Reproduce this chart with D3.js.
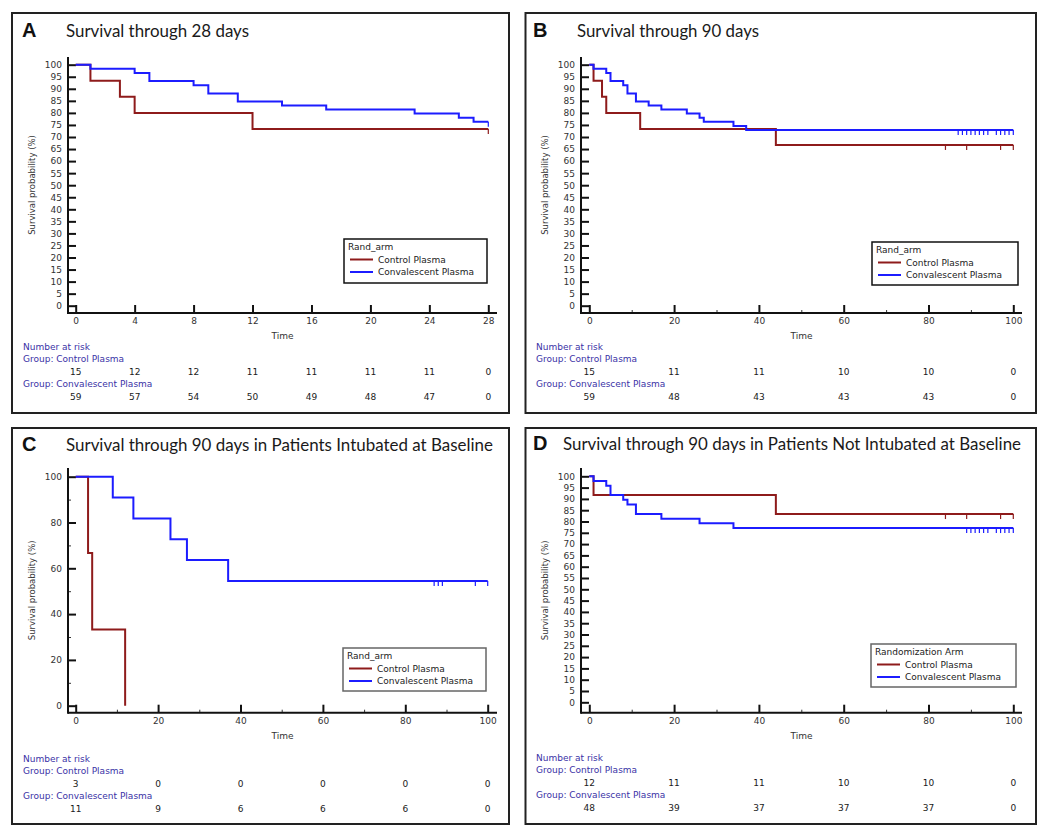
<!DOCTYPE html>
<html>
<head>
<meta charset="utf-8">
<script src="https://cdn.jsdelivr.net/npm/d3@7"></script>
<style>
  body { margin: 0; background: #fff; }
  svg text { font-family: "DejaVu Sans", Verdana, sans-serif; }
</style>
</head>
<body>
<div id="chart"></div>
<script>
// ---- data ----
const groupNames = ['Control Plasma', 'Convalescent Plasma']
const yTicks5 = d3.range(0, 101, 5)
const yTicks20 = [0, 20, 40, 60, 80, 100]
const yMinor10 = [10, 30, 50, 70, 90]
const xTicks28 = [0, 4, 8, 12, 16, 20, 24, 28]
const xTicks100 = [0, 20, 40, 60, 80, 100]
const xMinor100 = [10, 30, 50, 70, 90]

// A: survival through 28 days
const aControlTimes = [0, 1, 3, 4, 12, 28]
const aControlSurv = [100, 93.3, 86.7, 80.0, 73.3, 73.3]
const aControlCensor = [28]
const aConvTimes = [0, 1, 4, 5, 8, 9, 11, 14, 17, 23, 26, 27, 28]
const aConvSurv = [100, 98.3, 96.6, 93.2, 91.5, 88.1, 84.7, 83.1, 81.4, 79.7, 78.0, 76.3, 76.3]
const aConvCensor = [28]
const aRiskControl = [15, 12, 12, 11, 11, 11, 11, 0]
const aRiskConv = [59, 57, 54, 50, 49, 48, 47, 0]

// B: survival through 90 days
const bControlTimes = [0, 1, 3, 4, 12, 44, 100]
const bControlSurv = [100, 93.3, 86.7, 80.0, 73.3, 66.7, 66.7]
const bControlCensor = [84, 89, 97, 100]
const bConvTimes = [0, 1, 4, 5, 8, 9, 11, 14, 17, 23, 26, 27, 34, 37, 100]
const bConvSurv = [100, 98.3, 96.6, 93.2, 91.5, 88.1, 84.7, 83.1, 81.4, 79.7, 78.0, 76.3, 74.6, 72.9, 72.9]
const bConvCensor = [87, 88, 89, 90, 91, 92, 93, 94, 96, 97, 98, 99, 100]
const bRiskControl = [15, 11, 11, 10, 10, 0]
const bRiskConv = [59, 48, 43, 43, 43, 0]

// C: intubated at baseline
const cControlTimes = [0, 3, 4, 12]
const cControlSurv = [100, 66.7, 33.3, 0]
const cControlCensor = []
const cConvTimes = [0, 9, 14, 23, 27, 37, 100]
const cConvSurv = [100, 90.9, 81.8, 72.7, 63.6, 54.5, 54.5]
const cConvCensor = [87, 88, 89, 97, 100]
const cRiskControl = [3, 0, 0, 0, 0, 0]
const cRiskConv = [11, 9, 6, 6, 6, 0]

// D: not intubated at baseline
const dControlTimes = [0, 1, 44, 100]
const dControlSurv = [100, 91.7, 83.3, 83.3]
const dControlCensor = [84, 89, 97, 100]
const dConvTimes = [0, 1, 4, 5, 8, 9, 11, 17, 26, 34, 100]
const dConvSurv = [100, 97.9, 95.8, 91.7, 89.6, 87.5, 83.3, 81.25, 79.2, 77.1, 77.1]
const dConvCensor = [89, 90, 91, 92, 93, 94, 96, 97, 98, 99, 100]
const dRiskControl = [12, 11, 11, 10, 10, 0]
const dRiskConv = [48, 39, 37, 37, 37, 0]

const RED = '#8e1b1b'
const BLUE = '#1c1cff'

function zip(times, surv) {
  return times.map((t, i) => ({ t: t, s: surv[i] }))
}

const panels = [
  {
    letter: 'A', title: 'Survival through 28 days', legendTitle: 'Rand_arm',
    box: [12, 13, 497, 400], letterX: 22, titleX: 66, titleW: 183, titleY: 37,
    xMax: 28, xRange: [75.7, 488.3], yRange: [305.7, 64.7],
    axisX: 68, axisY: 313, yTop: 57, xEnd: 497,
    xTicks: xTicks28, xMinor: [], yTicks: yTicks5, yMinor: [],
    legend: [344, 239, 143, 44], legendStroke: '#111',
    riskY: 350, riskX: 23,
    control: zip(aControlTimes, aControlSurv), controlCensor: aControlCensor,
    conv: zip(aConvTimes, aConvSurv), convCensor: aConvCensor,
    riskControl: aRiskControl, riskConv: aRiskConv
  },
  {
    letter: 'B', title: 'Survival through 90 days', legendTitle: 'Rand_arm',
    box: [525.5, 13, 510.5, 400], letterX: 533, titleX: 577, titleW: 182, titleY: 37,
    xMax: 100, xRange: [589.3, 1013.3], yRange: [305.7, 64.7],
    axisX: 581, axisY: 313, yTop: 57, xEnd: 1022,
    xTicks: xTicks100, xMinor: xMinor100, yTicks: yTicks5, yMinor: [],
    legend: [872, 242, 146, 43], legendStroke: '#111',
    riskY: 350, riskX: 536,
    control: zip(bControlTimes, bControlSurv), controlCensor: bControlCensor,
    conv: zip(bConvTimes, bConvSurv), convCensor: bConvCensor,
    riskControl: bRiskControl, riskConv: bRiskConv
  },
  {
    letter: 'C', title: 'Survival through 90 days in Patients Intubated at Baseline', legendTitle: 'Rand_arm',
    box: [12, 428, 497, 396], letterX: 22, titleX: 66, titleW: 427, titleY: 451,
    xMax: 100, xRange: [75.7, 487.7], yRange: [705.7, 476.7],
    axisX: 68, axisY: 712.7, yTop: 468, xEnd: 497,
    xTicks: xTicks100, xMinor: xMinor100, yTicks: yTicks20, yMinor: yMinor10,
    legend: [343, 648, 143, 43], legendStroke: '#666',
    riskY: 762, riskX: 23,
    control: zip(cControlTimes, cControlSurv), controlCensor: cControlCensor,
    conv: zip(cConvTimes, cConvSurv), convCensor: cConvCensor,
    riskControl: cRiskControl, riskConv: cRiskConv
  },
  {
    letter: 'D', title: 'Survival through 90 days in Patients Not Intubated at Baseline', legendTitle: 'Randomization Arm',
    box: [525.5, 428, 510.5, 396], letterX: 533, titleX: 563, titleW: 458, titleY: 450,
    xMax: 100, xRange: [589.3, 1013.3], yRange: [702.3, 476.3],
    axisX: 581, axisY: 712.7, yTop: 468, xEnd: 1022,
    xTicks: xTicks100, xMinor: xMinor100, yTicks: yTicks5, yMinor: [],
    legend: [871, 644, 145, 43], legendStroke: '#666',
    riskY: 761, riskX: 536,
    control: zip(dControlTimes, dControlSurv), controlCensor: dControlCensor,
    conv: zip(dConvTimes, dConvSurv), convCensor: dConvCensor,
    riskControl: dRiskControl, riskConv: dRiskConv
  }
]

const svg = d3.select('#chart').append('svg')
  .attr('width', 1050)
  .attr('height', 833)

function drawPanel(p) {
  const g = svg.append('g')

  g.append('rect')
    .attr('x', p.box[0]).attr('y', p.box[1])
    .attr('width', p.box[2]).attr('height', p.box[3])
    .attr('fill', 'none').attr('stroke', '#222').attr('stroke-width', 2)

  g.append('text')
    .attr('x', p.letterX).attr('y', p.titleY)
    .style('font-family', '"Liberation Sans", Arial, sans-serif')
    .style('font-weight', 'bold').style('font-size', '20px')
    .attr('fill', '#111')
    .text(p.letter)

  g.append('text')
    .attr('x', p.titleX).attr('y', p.titleY)
    .style('font-family', 'Lato, "Open Sans", sans-serif')
    .style('font-size', '18px')
    .attr('fill', '#1a1a1a')
    .attr('textLength', p.titleW).attr('lengthAdjust', 'spacingAndGlyphs')
    .text(p.title)

  const x = d3.scaleLinear().domain([0, p.xMax]).range(p.xRange)
  const y = d3.scaleLinear().domain([0, 100]).range(p.yRange)

  // x axis (ticks point up into the plot)
  const xa = g.append('g')
    .attr('transform', 'translate(0,' + p.axisY + ')')
    .call(d3.axisBottom(x).tickValues(p.xTicks).tickSizeInner(-8).tickSizeOuter(0).tickPadding(5))
  if (p.xMinor.length) {
    g.append('g')
      .attr('transform', 'translate(0,' + p.axisY + ')')
      .call(d3.axisBottom(x).tickValues(p.xMinor).tickSizeInner(-3).tickSizeOuter(0).tickFormat(''))
      .call(s => s.select('.domain').remove())
      .selectAll('line').attr('stroke', '#333').attr('stroke-width', 1)
  }
  xa.select('.domain').remove()
  xa.selectAll('line').attr('stroke', '#111').attr('stroke-width', 2)
  xa.selectAll('text').attr('fill', '#333').style('font-size', '9px')

  // y axis (ticks point right into the plot)
  const ya = g.append('g')
    .attr('transform', 'translate(' + p.axisX + ',0)')
    .call(d3.axisLeft(y).tickValues(p.yTicks).tickSizeInner(-8).tickSizeOuter(0).tickPadding(6))
  if (p.yMinor.length) {
    g.append('g')
      .attr('transform', 'translate(' + p.axisX + ',0)')
      .call(d3.axisLeft(y).tickValues(p.yMinor).tickSizeInner(-3).tickSizeOuter(0).tickFormat(''))
      .call(s => s.select('.domain').remove())
      .selectAll('line').attr('stroke', '#333').attr('stroke-width', 1)
  }
  ya.select('.domain').remove()
  ya.selectAll('line').attr('stroke', '#111').attr('stroke-width', 2)
  ya.selectAll('text').attr('fill', '#333').style('font-size', '9px')

  g.append('line')
    .attr('x1', p.axisX).attr('x2', p.xEnd)
    .attr('y1', p.axisY).attr('y2', p.axisY)
    .attr('stroke', '#111').attr('stroke-width', 2)
  g.append('line')
    .attr('x1', p.axisX).attr('x2', p.axisX)
    .attr('y1', p.yTop).attr('y2', p.axisY + 1)
    .attr('stroke', '#111').attr('stroke-width', 2)

  // axis titles
  g.append('text')
    .attr('x', (p.axisX + p.xEnd) / 2).attr('y', p.axisY + 26)
    .attr('text-anchor', 'middle').attr('fill', '#333')
    .style('font-size', '9px')
    .text('Time')
  g.append('text')
    .attr('transform', 'translate(' + (p.axisX - 33) + ',' + ((p.yTop + p.axisY) / 2) + ') rotate(-90)')
    .attr('text-anchor', 'middle').attr('fill', '#333')
    .style('font-size', '8.5px')
    .text('Survival probability (%)')

  // survival curves
  const line = d3.line()
    .curve(d3.curveStepAfter)
    .x(d => x(d.t))
    .y(d => y(d.s))

  const series = [
    { data: p.control, censor: p.controlCensor, color: RED },
    { data: p.conv, censor: p.convCensor, color: BLUE }
  ]

  series.forEach(s => {
    g.append('path')
      .attr('d', line(s.data))
      .attr('fill', 'none')
      .attr('stroke', s.color)
      .attr('stroke-width', 2)

    const last = s.data[s.data.length - 1].s
    g.selectAll(null)
      .data(s.censor)
      .enter()
      .append('line')
      .attr('x1', d => x(d)).attr('x2', d => x(d))
      .attr('y1', y(last)).attr('y2', y(last) + 5)
      .attr('stroke', s.color)
      .attr('stroke-width', 1.2)
  })

  // legend
  const [lx, ly, lw, lh] = p.legend
  g.append('rect')
    .attr('x', lx).attr('y', ly).attr('width', lw).attr('height', lh)
    .attr('fill', '#fff').attr('stroke', p.legendStroke).attr('stroke-width', 1.5)
  g.append('text')
    .attr('x', lx + 4).attr('y', ly + 11)
    .attr('fill', '#222').style('font-size', '9px')
    .text(p.legendTitle)
  series.forEach((s, i) => {
    const yy = ly + 20.5 + i * 12.5
    g.append('line')
      .attr('x1', lx + 6).attr('x2', lx + 29)
      .attr('y1', yy).attr('y2', yy)
      .attr('stroke', s.color).attr('stroke-width', 2)
    g.append('text')
      .attr('x', lx + 34).attr('y', yy + 3)
      .attr('fill', '#222').style('font-size', '9px')
      .text(groupNames[i])
  })

  // number at risk table
  const risk = g.append('g').style('font-size', '9px')
  risk.append('text')
    .attr('x', p.riskX).attr('y', p.riskY)
    .attr('fill', '#3a32a6')
    .text('Number at risk')
  risk.append('text')
    .attr('x', p.riskX).attr('y', p.riskY + 12)
    .attr('fill', '#3a32a6')
    .text('Group: ' + groupNames[0])
  risk.append('text')
    .attr('x', p.riskX).attr('y', p.riskY + 37)
    .attr('fill', '#3a32a6')
    .text('Group: ' + groupNames[1])

  const rows = [
    { vals: p.riskControl, dy: 25 },
    { vals: p.riskConv, dy: 50 }
  ]
  rows.forEach(r => {
    risk.selectAll(null)
      .data(r.vals)
      .enter()
      .append('text')
      .attr('x', (_, i) => x(p.xTicks[i]))
      .attr('y', p.riskY + r.dy)
      .attr('text-anchor', 'middle')
      .attr('fill', '#1a1a1a')
      .text(d => d)
  })
}

panels.forEach(drawPanel)
</script>
</body>
</html>
